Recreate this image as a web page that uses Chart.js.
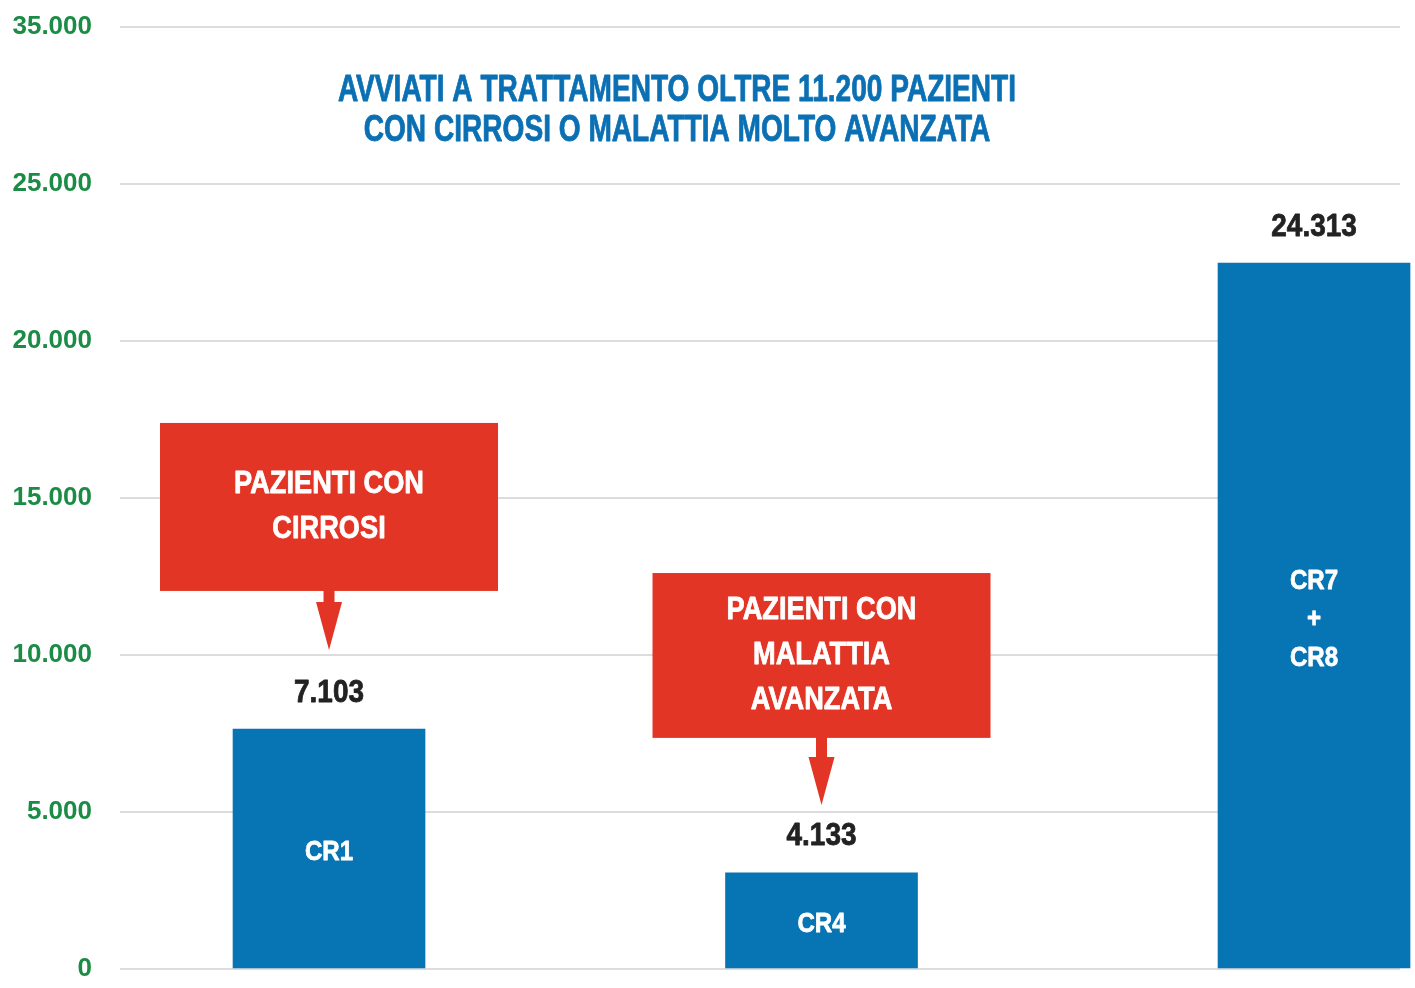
<!DOCTYPE html>
<html>
<head>
<meta charset="utf-8">
<script src="https://cdn.jsdelivr.net/npm/chart.js@4/dist/chart.umd.min.js"></script>
<style>
html, body { margin: 0; padding: 0; background: #fff; overflow: hidden; }
#wrap { width: 1415px; height: 988px; position: relative; }
</style>
</head>
<body>
<div id="wrap"><canvas id="chart"></canvas></div>
<script>
// values as drawn in the picture (bar heights) and as printed on top of the bars
const categories = ['CR1', 'CR4', 'CR7 + CR8'];
const barLines = [['CR1'], ['CR4'], ['CR7', '+', 'CR8']];
const barHeights = [7640, 3060, 22480];
const valueLabels = ['7.103', '4.133', '24.313'];
const yTickLabels = ['0', '5.000', '10.000', '15.000', '20.000', '25.000', '35.000'];
const titleLines = ['AVVIATI A TRATTAMENTO OLTRE 11.200 PAZIENTI', 'CON CIRROSI O MALATTIA MOLTO AVANZATA'];
const calloutLines = [['PAZIENTI CON', 'CIRROSI'], ['PAZIENTI CON', 'MALATTIA', 'AVANZATA']];

const BLUE = '#0774b4';
const TITLE_BLUE = '#0b70b3';
const RED = '#e23525';
const GREEN = '#1b8b45';
const DARK = '#222222';
const FONT = "'Liberation Sans', Arial, sans-serif";

// bold text squeezed horizontally to look like a condensed face
function condText(ctx, text, x, y, size, squeeze, color) {
    ctx.save();
    ctx.font = 'bold ' + size + 'px ' + FONT;
    ctx.fillStyle = color;
    ctx.strokeStyle = color;
    ctx.lineWidth = 0.8;
    ctx.lineJoin = 'round';
    ctx.textAlign = 'center';
    ctx.textBaseline = 'middle';
    ctx.translate(x, y);
    ctx.scale(squeeze, 1);
    ctx.fillText(text, 0, 0);
    ctx.strokeText(text, 0, 0);
    ctx.restore();
}

const decorations = {
    id: 'decorations',
    afterDatasetsDraw(chart, args, opts) {
        const ctx = chart.ctx;
        const y = chart.scales.y;
        const meta = chart.getDatasetMeta(0);

        // title inside the plot
        titleLines.forEach((t, i) => condText(ctx, t, 677, 91 + i * 40, 36, 0.78, TITLE_BLUE));

        // labels in and above the bars
        meta.data.forEach((bar, i) => {
            const mid = (bar.y + bar.base) / 2 + 4;
            const lines = barLines[i];
            lines.forEach((t, j) => {
                condText(ctx, t, bar.x, mid + (j - (lines.length - 1) / 2) * 38.5, 28, 0.86, '#ffffff');
            });
            condText(ctx, valueLabels[i], bar.x, bar.y - 36, 31, 0.9, DARK);
        });

        // red callout boxes with arrow
        opts.callouts.forEach((c, i) => {
            const cx = meta.data[c.bar].x;
            const top = y.getPixelForValue(c.top);
            const bottom = y.getPixelForValue(c.bottom);
            const tip = y.getPixelForValue(c.tip);
            ctx.save();
            ctx.fillStyle = RED;
            ctx.fillRect(cx - 169, top, 338, bottom - top);
            ctx.fillRect(cx - 5.5, bottom - 1, 11, tip - 48 - bottom + 3);
            ctx.beginPath();
            ctx.moveTo(cx - 13, tip - 48);
            ctx.lineTo(cx + 13, tip - 48);
            ctx.lineTo(cx, tip);
            ctx.closePath();
            ctx.fill();
            ctx.restore();
            const lines = calloutLines[i];
            const mid = (top + bottom) / 2;
            lines.forEach((t, j) => {
                condText(ctx, t, cx, mid + (j - (lines.length - 1) / 2) * 45, 32, 0.85, '#ffffff');
            });
        });
    }
};

new Chart(document.getElementById('chart'), {
    type: 'bar',
    data: {
        labels: categories,
        datasets: [{
            data: barHeights.map((v, i) => ({ x: i, y: v })),
            backgroundColor: BLUE,
            borderWidth: 0,
            barThickness: 192,
            clip: false
        }]
    },
    options: {
        responsive: true,
        maintainAspectRatio: false,
        animation: false,
        layout: {
            padding: { top: 27, right: 15, bottom: 19, left: 0 }
        },
        plugins: {
            legend: { display: false },
            tooltip: { enabled: false },
            decorations: {
                callouts: [
                    { bar: 0, top: 17390, bottom: 12040, tip: 10160 },
                    { bar: 1, top: 12610, bottom: 7360, tip: 5220 }
                ]
            }
        },
        scales: {
            x: {
                type: 'linear',
                display: false,
                offset: false,
                min: -0.4244,
                max: 2.1746
            },
            y: {
                min: 0,
                max: 30000,
                afterFit: s => { s.width = 120; },
                ticks: {
                    stepSize: 5000,
                    padding: 0,
                    color: GREEN,
                    font: { family: FONT, size: 26, weight: 'bold' },
                    callback: (v, i) => yTickLabels[i]
                },
                grid: {
                    color: '#dcdcdc',
                    lineWidth: 2,
                    drawTicks: true,
                    tickLength: 28,
                    tickColor: 'rgba(0,0,0,0)'
                },
                border: { display: false }
            }
        }
    },
    plugins: [decorations]
});
</script>
</body>
</html>
